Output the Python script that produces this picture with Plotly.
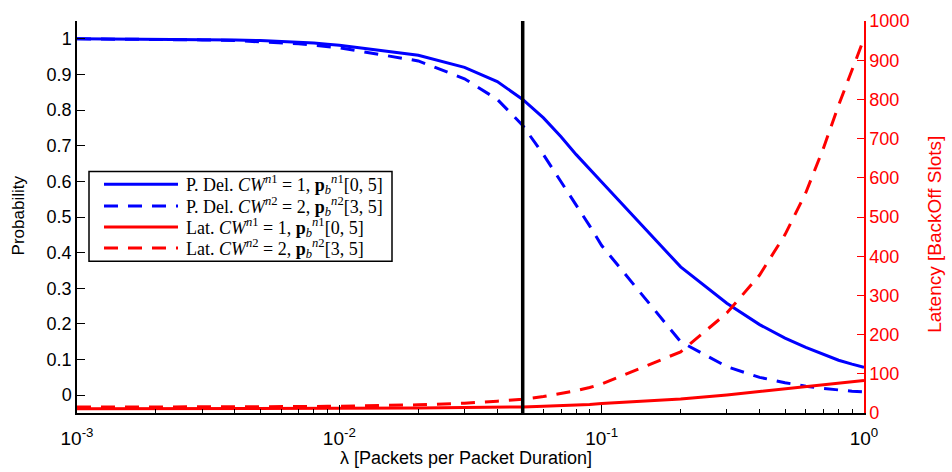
import plotly.graph_objects as go

# Offered load (packets per packet duration)
lam = [0.001, 0.002, 0.003, 0.004, 0.005, 0.006, 0.007, 0.008, 0.009,
       0.01, 0.02, 0.03, 0.04, 0.05, 0.06, 0.07, 0.08, 0.09,
       0.1, 0.2, 0.3, 0.4, 0.5, 0.6, 0.7, 0.8, 0.9, 1.0]

# Delivery probability
pdel_cw1 = [1.000, 0.999, 0.998, 0.997, 0.995, 0.993, 0.990, 0.988, 0.985,
            0.982, 0.954, 0.920, 0.880, 0.830, 0.778, 0.725, 0.675, 0.635,
            0.598, 0.360, 0.258, 0.198, 0.160, 0.134, 0.114, 0.098, 0.087, 0.078]
pdel_cw2 = [1.000, 0.999, 0.997, 0.995, 0.992, 0.989, 0.986, 0.982, 0.979,
            0.975, 0.938, 0.888, 0.830, 0.757, 0.675, 0.600, 0.535, 0.475,
            0.420, 0.150, 0.080, 0.050, 0.035, 0.025, 0.019, 0.014, 0.011, 0.009]

# Latency in backoff slots
lat_cw1 = [11, 11, 11, 11, 11.5, 11.5, 11.5, 12, 12,
           12, 13, 13.5, 14.5, 15.5, 17, 18.5, 20, 22,
           24, 36, 46, 55, 62, 68, 73, 77, 80, 83]
lat_cw2 = [15, 15, 15, 15.5, 16, 16, 16.5, 16.5, 17,
           17, 21, 25, 30, 35, 42, 49, 57, 65,
           74, 156, 255, 352, 455, 562, 675, 785, 875, 955]

# Operating point marker
lam_op = 0.05

x_tickvals = [0.001, 0.01, 0.1, 1]
x_ticktext = ["10<sup>-3</sup>", "10<sup>-2</sup>", "10<sup>-1</sup>", "10<sup>0</sup>"]
y_tickvals = [0, 0.1, 0.2, 0.3, 0.4, 0.5, 0.6, 0.7, 0.8, 0.9, 1]
y_ticktext = ["0", "0.1", "0.2", "0.3", "0.4", "0.5", "0.6", "0.7", "0.8", "0.9", "1"]
y2_tickvals = [0, 100, 200, 300, 400, 500, 600, 700, 800, 900, 1000]

legend_labels = [
    "P. Del. <i>CW</i><sup><i>n</i>1</sup> = 1, <b>p</b><sub><i>b</i></sub><sup><i>n</i>1</sup>[0, 5]",
    "P. Del. <i>CW</i><sup><i>n</i>2</sup> = 2, <b>p</b><sub><i>b</i></sub><sup><i>n</i>2</sup>[3, 5]",
    "Lat. <i>CW</i><sup><i>n</i>1</sup> = 1, <b>p</b><sub><i>b</i></sub><sup><i>n</i>1</sup>[0, 5]",
    "Lat. <i>CW</i><sup><i>n</i>2</sup> = 2, <b>p</b><sub><i>b</i></sub><sup><i>n</i>2</sup>[3, 5]",
]

BLUE = "#0000ff"
RED = "#ff0000"
DASH = "14px,10px"
LW = 3

styles = [(BLUE, "solid"), (BLUE, DASH), (RED, "solid"), (RED, DASH)]

fig = go.Figure()
fig.add_trace(go.Scatter(x=lam, y=pdel_cw1, mode="lines",
                         line=dict(color=BLUE, width=LW)))
fig.add_trace(go.Scatter(x=lam, y=pdel_cw2, mode="lines",
                         line=dict(color=BLUE, width=LW, dash=DASH)))
fig.add_trace(go.Scatter(x=lam, y=lat_cw1, mode="lines", yaxis="y2",
                         line=dict(color=RED, width=LW)))
fig.add_trace(go.Scatter(x=lam, y=lat_cw2, mode="lines", yaxis="y2",
                         line=dict(color=RED, width=LW, dash=DASH)))
fig.add_trace(go.Scatter(x=[lam_op, lam_op], y=[0, 1000], mode="lines", yaxis="y2",
                         line=dict(color="black", width=3.5)))

minor_vals = [m * 10.0 ** e for e in (-3, -2, -1) for m in range(2, 10)]

SANS = "Liberation Sans, Arial, sans-serif"

fig.update_layout(
    width=952, height=472,
    margin=dict(l=77, r=88, t=11, b=59),
    paper_bgcolor="white", plot_bgcolor="white",
    showlegend=False,
    xaxis=dict(
        type="log", range=[-3, 0],
        tickmode="array", tickvals=x_tickvals, ticktext=x_ticktext,
        ticks="inside", ticklen=8, tickwidth=1.2, tickcolor="black",
        minor=dict(tickmode="array", tickvals=minor_vals, ticks="inside",
                   ticklen=4, tickwidth=1, tickcolor="black", showgrid=False),
        showline=True, linecolor="black", linewidth=1.5, mirror=False,
        showgrid=False, zeroline=False,
        tickfont=dict(family=SANS, size=19, color="black"),
        ticklabelstandoff=7,
    ),
    yaxis=dict(
        range=[-0.05, 1.05],
        tickmode="array", tickvals=y_tickvals, ticktext=y_ticktext,
        ticks="inside", ticklen=8, tickwidth=1.2, tickcolor="black",
        showline=True, linecolor="black", linewidth=1.5,
        showgrid=False, zeroline=False,
        tickfont=dict(family=SANS, size=18, color="black"),
    ),
    yaxis2=dict(
        overlaying="y", side="right", range=[0, 1000],
        tickmode="array", tickvals=y2_tickvals,
        ticks="inside", ticklen=7, tickwidth=1.2, tickcolor=RED,
        showline=True, linecolor=RED, linewidth=1.5,
        showgrid=False, zeroline=False,
        tickfont=dict(family=SANS, size=18, color=RED),
    ),
)

# Axis titles
fig.add_annotation(text="Probability", xref="paper", yref="paper",
                   x=-0.075, y=0.504, textangle=-90, showarrow=False,
                   xanchor="center", yanchor="middle",
                   font=dict(family=SANS, size=17, color="black"))
fig.add_annotation(text="Latency [BackOff Slots]", xref="paper", yref="paper",
                   x=1.0902, y=0.457, textangle=-90, showarrow=False,
                   xanchor="center", yanchor="middle",
                   font=dict(family=SANS, size=19, color=RED))
fig.add_annotation(text="λ [Packets per Packet Duration]", xref="paper", yref="paper",
                   x=0.494, y=-0.115, showarrow=False,
                   xanchor="center", yanchor="middle",
                   font=dict(family=SANS, size=18, color="black"))

# Legend box drawn in paper coordinates
PX0, PW, PY1, PH = 77.0, 787.0, 412.7, 402.0


def px(xp):
    return (xp - PX0) / PW


def py(yp):
    return (PY1 - yp) / PH


fig.add_shape(type="rect", xref="paper", yref="paper",
              x0=px(89), x1=px(392), y0=py(257), y1=py(165),
              line=dict(color="black", width=1.5), fillcolor="white", layer="above")
row_y = [178, 200.5, 222, 243.5]
for (color, dash), label, ry in zip(styles, legend_labels, row_y):
    fig.add_shape(type="line", xref="paper", yref="paper",
                  x0=px(104), x1=px(178), y0=py(ry), y1=py(ry),
                  line=dict(color=color, width=LW, dash=dash), layer="above")
    fig.add_annotation(text=label, xref="paper", yref="paper",
                       x=px(184), y=py(ry), showarrow=False,
                       xanchor="left", yanchor="middle",
                       font=dict(family="Liberation Serif, Times New Roman, serif",
                                 size=18, color="black"))

fig.write_html("out.html")
